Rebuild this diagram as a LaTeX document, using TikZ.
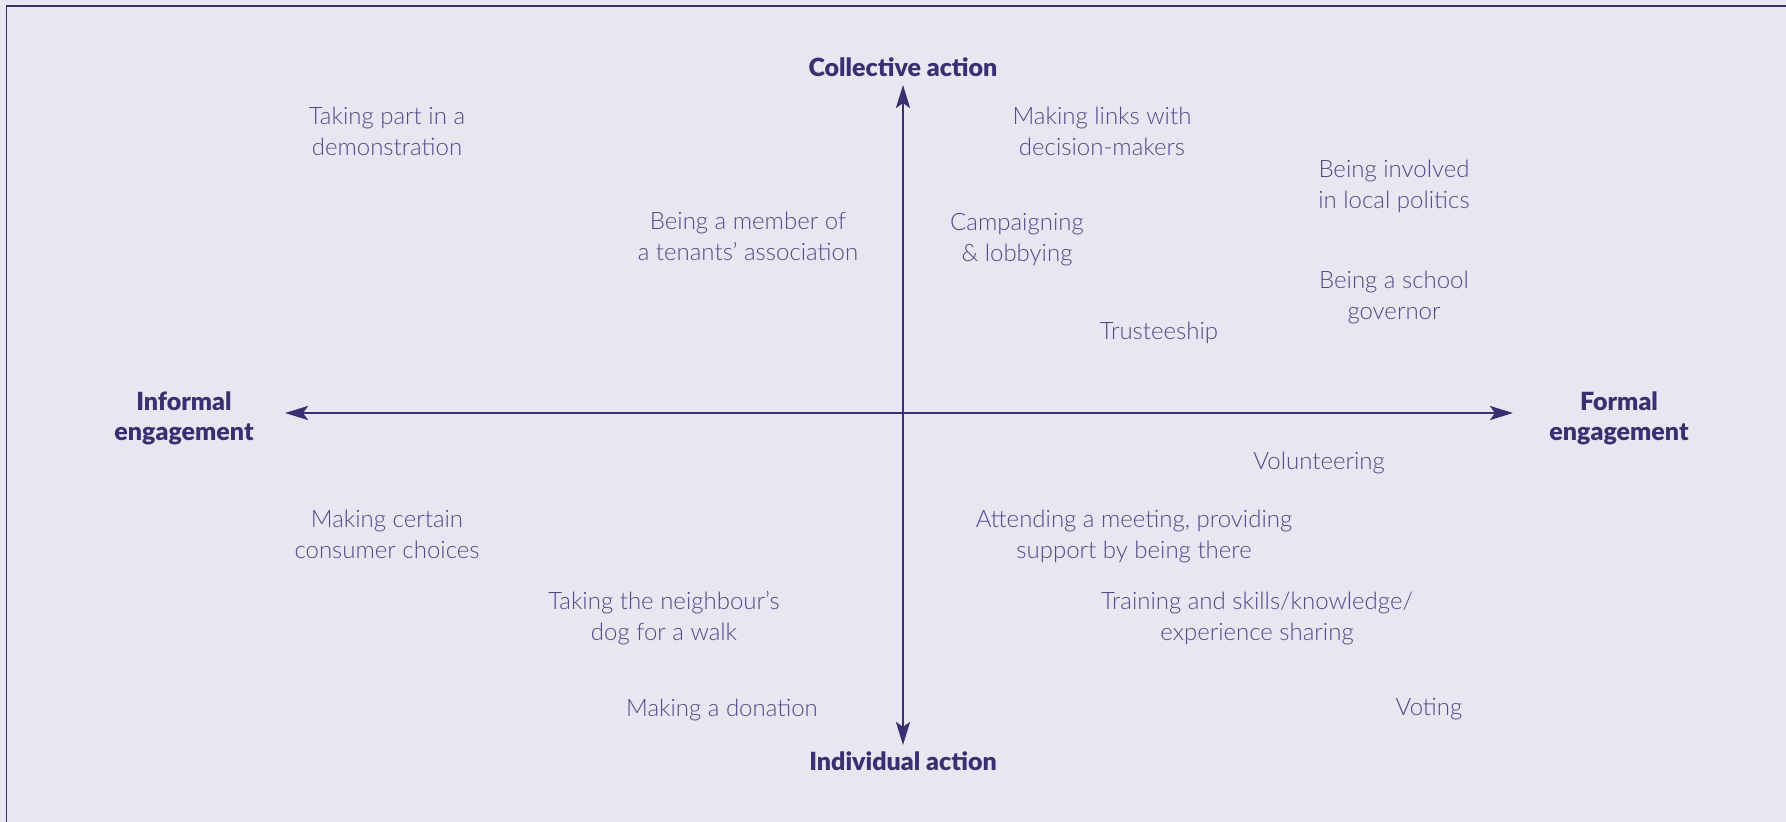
\documentclass[tikz,border=0pt]{standalone}
\usepackage{fontspec}
\setmainfont{Lato}[UprightFont=* Light, BoldFont=* Bold]
\newfontfamily\polefont{Lato}[UprightFont=* Black]
\usetikzlibrary{arrows.meta}
\definecolor{bgc}{RGB}{232,230,241}
\definecolor{axisc}{RGB}{58,47,112}
\definecolor{txtc}{RGB}{80,74,136}
\tikzset{
  axisline/.style={draw=axisc, line width=1.4pt, -{Stealth[length=11.5pt, width=7pt, inset=2.5pt]}},
  item/.style={text=txtc, font=\fontsize{12}{15.5}\selectfont, align=center, inner sep=0pt},
  pole/.style={text=axisc, font=\fontsize{12.5}{15}\polefont, align=center, inner sep=0pt}
}
\begin{document}
\begin{tikzpicture}[x=0.5pt, y=-0.5pt]
\fill[bgc] (0,0) rectangle (1786,822);
\useasboundingbox (0,0) rectangle (1786,822);
\coordinate (tl) at (6.5,6);
\coordinate (tr) at (1786,6);
\coordinate (bl) at (6.5,822);
\draw[axisc, line width=0.75pt] (bl) -- (tl) -- (tr);

\coordinate (o) at (903,413);
\coordinate (top) at (903,85);
\coordinate (bot) at (903,745);
\coordinate (lft) at (285,413);
\coordinate (rgt) at (1513,413);
\draw[axisline] (o) -- (top);
\draw[axisline] (o) -- (bot);
\draw[axisline] (o) -- (lft);
\draw[axisline] (o) -- (rgt);

\node[pole] (coll) at (903,67) {Collective action};
\node[pole] (indiv) at (903,761) {Individual action};
\node[pole] (inf) at (184,418.5) {Informal\\engagement};
\node[pole] (form) at (1619,418.5) {Formal\\engagement};

\node[item] (demo) at (387,131) {Taking part in a\\demonstration};
\node[item] (tenant) at (748,236.5) {Being a member of\\a tenants’ association};
\node[item] (links) at (1102,131) {Making links with\\decision-makers};
\node[item] (camp) at (1017,239.5) {Campaigning\\\& lobbying};
\node[item] (local) at (1394,186.5) {Being involved\\in local politics};
\node[item] (school) at (1394,297.5) {Being a school\\governor};
\node[item] (trust) at (1159,332.5) {Trusteeship};
\node[item] (vol) at (1319,462.5) {Volunteering};
\node[item] (meet) at (1134,536) {Attending a meeting, providing\\support by being there};
\node[item] (train) at (1257,618.5) {Training and skills/knowledge/\\experience sharing};
\node[item] (vote) at (1429,709.5) {Voting};
\node[item] (consumer) at (387,534) {Making certain\\consumer choices};
\node[item] (dog) at (664,618.5) {Taking the neighbour’s\\dog for a walk};
\node[item] (donation) at (722,709.5) {Making a donation};
\end{tikzpicture}
\end{document}
